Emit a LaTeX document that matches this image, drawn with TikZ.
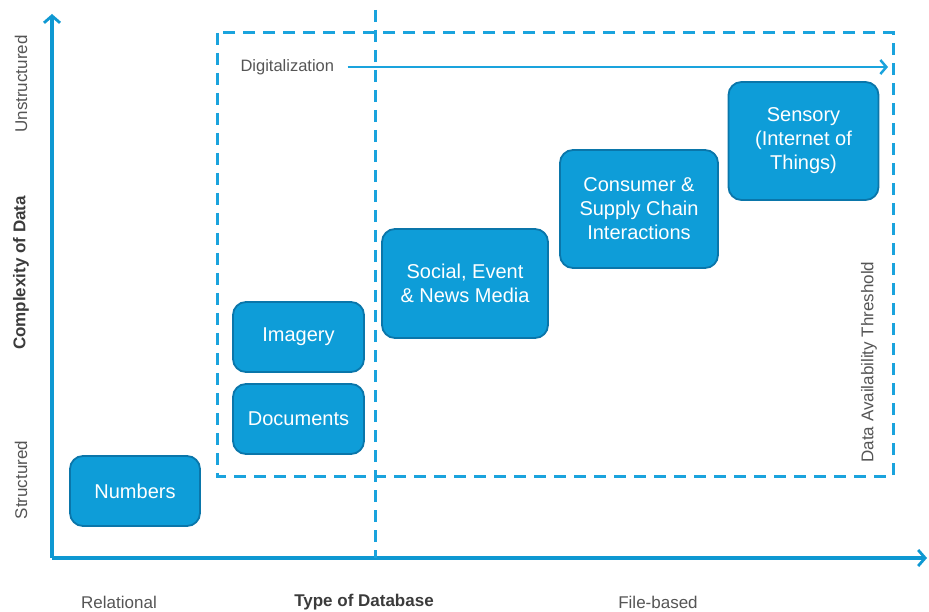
\documentclass[tikz,border=0pt]{standalone}
\usepackage{fontspec}
\setmainfont{Liberation Sans}
\usetikzlibrary{arrows.meta}
\definecolor{boxfill}{HTML}{0E9DD8}
\definecolor{boxedge}{HTML}{0A76AA}
\definecolor{lineblue}{HTML}{1AA3DD}
\definecolor{axisblue}{HTML}{0E98D2}
\definecolor{labelgrey}{HTML}{555555}
\tikzset{
  cat/.style={draw=boxedge, line width=1.8pt, fill=boxfill, rounded corners=13pt,
    text=white, align=center, font=\fontsize{20}{24}\selectfont, inner sep=0pt},
  axisline/.style={draw=axisblue, line width=3.2pt, -{Straight Barb[length=7pt,width=16pt,line width=2.8pt]}},
  threshold/.style={draw=lineblue, line width=3pt, dash pattern=on 12pt off 8pt},
  axislabel/.style={text=labelgrey, font=\fontsize{17}{20}\selectfont},
  axistitle/.style={text=labelgrey!70!black, font=\fontsize{17}{20}\selectfont\bfseries},
}
\begin{document}
\begin{tikzpicture}[x=1pt,y=-1pt]
\useasboundingbox (0,0) rectangle (929,612);

% axes
\coordinate (origin) at (52,558);
\coordinate (ytip) at (52,14);
\coordinate (xtip) at (927,558);
\draw[axisline] (origin) -- (ytip);
\draw[axisline] (origin) -- (xtip);

% data availability threshold (dashed frame) and divider
\draw[threshold] (217,33) rectangle (893,476);
\coordinate (divtop) at (375,10);
\coordinate (divbot) at (375,558);
\draw[threshold] (divtop) -- (divbot);

% digitalization arrow
\node[text=labelgrey, font=\fontsize{16.5}{19}\selectfont, anchor=west] (digi) at (237,67) {Digitalization};
\coordinate (digiend) at (888,67);
\draw[draw=lineblue, line width=2.8pt, -{Straight Barb[length=6pt,width=14pt,line width=2.5pt]}]
  ([xshift=10pt]digi.east) -- (digiend);

\node[rotate=90, text=labelgrey, font=\fontsize{17}{20}\selectfont] (thr) at (869,362) {Data Availability Threshold};

% data categories
\node[cat, minimum width=130pt, minimum height=70pt] (numbers) at (135,491) {Numbers};
\node[cat, minimum width=131pt, minimum height=70pt] (imagery) at (298.5,337) {Imagery};
\node[cat, minimum width=131pt, minimum height=70pt] (docs) at (298.5,419) {Documents};
\node[cat, minimum width=166pt, minimum height=109pt] (social) at (465,283.5) {Social, Event\\\& News Media};
\node[cat, minimum width=158pt, minimum height=118pt] (consumer) at (639,209) {Consumer \&\\Supply Chain\\Interactions};
\node[cat, minimum width=150pt, minimum height=118pt] (sensory) at (803.5,141) {Sensory\\(Internet of\\Things)};

% axis labels
\node[axislabel] (relational) at (119,602) {Relational};
\node[axistitle] (dbtype) at (364,602) {Type of Database};
\node[axislabel] (filebased) at (658,602) {File-based};
\node[axislabel, rotate=90] (unstruct) at (21,84) {Unstructured};
\node[axistitle, rotate=90] (complexity) at (21,273) {Complexity of Data};
\node[axislabel, rotate=90] (struct) at (21,480) {Structured};
\end{tikzpicture}
\end{document}
